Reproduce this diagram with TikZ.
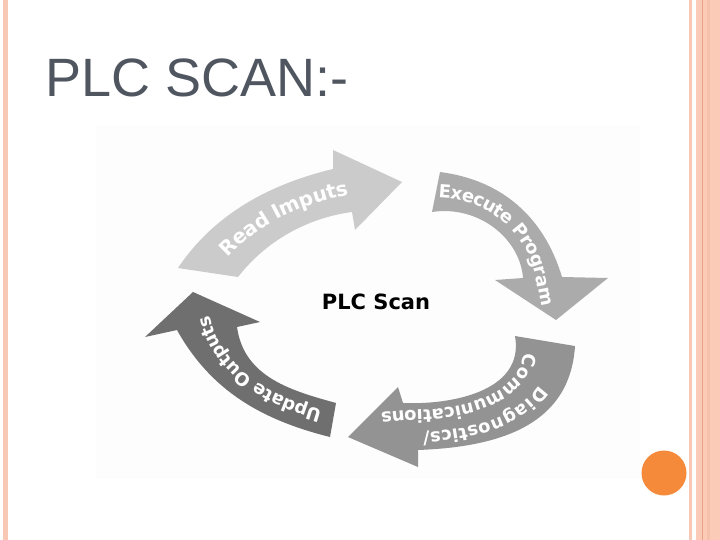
\documentclass[tikz,border=0pt]{standalone}
\usepackage{fontspec}
\setmainfont{Liberation Sans}
\newfontfamily\arcfont{DejaVu Sans}
\usetikzlibrary{decorations.text}
\definecolor{salmon}{HTML}{F8C8B4}
\definecolor{salmonB}{HTML}{FBCBB7}
\definecolor{salmonD}{HTML}{E9A285}
\definecolor{dotorange}{HTML}{F58A3B}
\definecolor{titlegray}{HTML}{505660}
\definecolor{readgray}{HTML}{CBCBCB}
\definecolor{execgray}{HTML}{ABABAB}
\definecolor{diaggray}{HTML}{939393}
\definecolor{updgray}{HTML}{6F6F6F}
\definecolor{panel}{HTML}{FDFDFD}
\tikzset{
  arclabel/.style={decorate, decoration={text along path, text align=center, raise=-6pt, text={#1}}},
}
\newcommand{\arcfmt}{\arcfont\bfseries\fontsize{18}{20}\selectfont\color{white}}
\begin{document}
\begin{tikzpicture}[x=1pt,y=-1pt]
\useasboundingbox (0,0) rectangle (720,540);
\fill[white] (0,0) rectangle (720,540);
% borders
\fill[salmon] (3,0) rectangle (8,540);
\fill[salmon] (688.5,0) rectangle (691.5,540);
\fill[salmonB] (696,0) rectangle (720,540);
\fill[salmon!80!salmonD] (707,0) rectangle (710,540);
\draw[salmonD, line width=0.9pt] (702.3,0) -- (702.3,540);
\fill[dotorange] (664,473) circle (22.5);
% title
\node[anchor=base west, inner sep=0pt, text=titlegray, font=\fontsize{54}{60}\selectfont] (title) at (45,97) {PLC SCAN:-};
% picture panel
\fill[panel] (96,125) rectangle (640,479);
% Read Imputs
\fill[readgray] (178,268) .. controls (214,214) and (270,184) .. (333,169) -- (333,150) -- (402,182) -- (355,230) -- (352,212)
  .. controls (307,218) and (266,241) .. (238,277) -- cycle;
\path[arclabel={|\arcfmt\fontsize{20}{22}\selectfont|Read Imputs}] (208,272) .. controls (240,228) and (288,201) .. (342,190) -- (372,186);
% Execute Program
\fill[execgray] (440,172) .. controls (502,180) and (544,217) .. (562,277) -- (608,278) -- (556,320) -- (495,280) -- (523,278)
  .. controls (520,238) and (478,205) .. (432,212) -- cycle;
\path[arclabel={|\arcfmt|Execute Program}] (436,192) .. controls (490,192) and (532,227) .. (542,277) -- (548,308);
% Diagnostics / Communications
\fill[diaggray] (575,346) .. controls (570,425) and (500,447) .. (418,450) -- (418,467) -- (348,437) -- (398,387) -- (403,403)
  .. controls (450,405) and (525,392) .. (515,336) -- cycle;
\path[decorate, decoration={text along path, text align=center, raise=6pt, text={|\arcfmt|Diagnostics/}}] (545,341) .. controls (547,408) and (475,426) .. (410,427) -- (380,430);
\path[decorate, decoration={text along path, text align=center, text={|\arcfmt|Communications}}] (524,338) .. controls (532,397) and (458,411) .. (405,410) -- (366,414);
% Update Outputs
\fill[updgray] (330,437) .. controls (262,420) and (211,391) .. (177,330) -- (145,337) -- (193,292) -- (260,322) -- (237,327)
  .. controls (244,378) and (293,391) .. (336,403) -- cycle;
\path[arclabel={|\arcfmt|Update Outputs}] (333,420) .. controls (278,405) and (228,385) .. (207,328) -- (200,305);
% centre label
\node[font=\arcfont\bfseries\fontsize{21}{24}\selectfont, text=black] (scan) at (376,302) {PLC Scan};
\end{tikzpicture}
\end{document}
